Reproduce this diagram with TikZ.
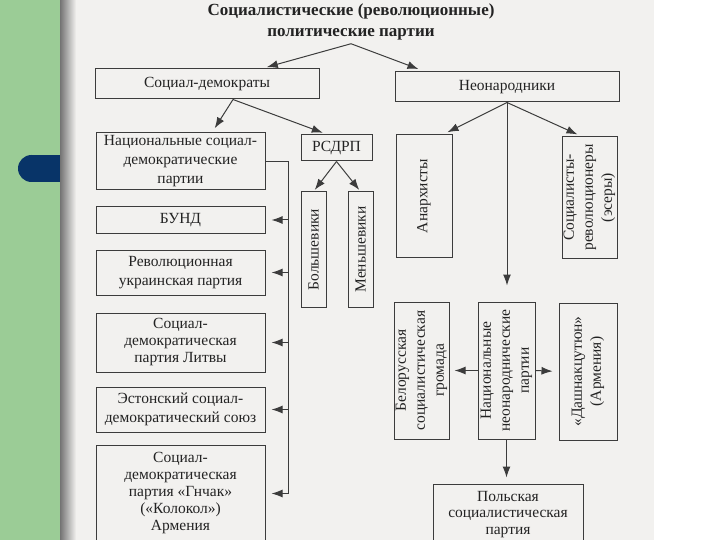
\documentclass[tikz,border=0pt]{standalone}
\usepackage{fontspec}
\setmainfont{Liberation Serif}
\usetikzlibrary{arrows.meta}

\definecolor{slidegreen}{RGB}{155,204,150}
\definecolor{slideblue}{RGB}{8,52,104}
\definecolor{scanpaper}{RGB}{242,241,239}
\definecolor{scanink}{RGB}{35,35,35}
\definecolor{scanline}{RGB}{60,60,60}

\tikzset{
  partybox/.style={draw=scanline, line width=1pt, align=center, inner sep=0pt,
    text=scanink, font=\fontsize{15.5}{19}\selectfont},
  uprightbox/.style={partybox, rotate=90},
  link/.style={draw=scanline, line width=1pt, -{Latex[length=11pt,width=8pt]}},
}

\begin{document}
\begin{tikzpicture}[x=1pt,y=-1pt]
        \useasboundingbox (0,0) rectangle (720,540);
        \clip (0,0) rectangle (720,540);

        % slide background and the scanned page
        \fill[white] (0,0) rectangle (720,540);
        \fill[slidegreen] (0,0) rectangle (60,540);
        \fill[scanpaper] (60,0) rectangle (654,540);
        \shade[left color=black!55, right color=scanpaper] (60,0) rectangle (76,540);
        \fill[slideblue] (31.5,168.5) circle[radius=13.5];
        \fill[slideblue] (31.5,155) rectangle (60,182);

        % title
        \node[font=\bfseries\fontsize{17}{21}\selectfont, text=scanink, align=center]
            (title) at (351,22) {Социалистические (революционные)\\политические партии};

        % the two main branches
        \node[partybox, minimum width=224pt, minimum height=30pt] (socdem) at (207,84) {Социал-демократы};
        \node[partybox, minimum width=224pt, minimum height=30pt] (neonar) at (507,87) {Неонародники};
        \draw[link, shorten >=5pt] (title.south) -- ([xshift=55pt]socdem.north);
        \draw[link, shorten >=7pt] (title.south) -- ([xshift=-82pt]neonar.north);

        % social democrats
        \node[partybox, minimum width=169pt, minimum height=57pt] (natsd) at (180.5,161.5)
            {Национальные социал-\\демократические\\партии};
        \node[partybox, minimum width=71pt, minimum height=26pt] (rsdrp) at (336.5,148) {РСДРП};
        \draw[link, shorten >=5pt] ([xshift=26pt]socdem.south) -- ([xshift=31.5pt]natsd.north);
        \draw[link, shorten >=5pt] ([xshift=26pt]socdem.south) -- ([xshift=-9pt]rsdrp.north);

        \node[uprightbox, minimum width=115pt, minimum height=25pt] (bolsh) at (313.5,249.5) {Большевики};
        \node[uprightbox, minimum width=115pt, minimum height=25pt] (mensh) at (360.5,249.5) {Меньшевики};
        \draw[link, shorten >=2pt] (rsdrp.south) -- (bolsh.east);
        \draw[link, shorten >=2pt] (rsdrp.south) -- (mensh.east);

        % national parties on the left
        \foreach \name/\y/\h/\ls/\txt in {
            bund/220/26/19/{БУНД},
            ukr/272.5/45/19/{Революционная\\украинская партия},
            lit/342.5/59/17/{Социал-\\демократическая\\партия Литвы},
            est/409.5/45/19/{Эстонский социал-\\демократический союз},
            armen/493.5/97/17/{Социал-\\демократическая\\партия «Гнчак»\\(«Колокол»)\\Армения}}
                \node[partybox, font=\fontsize{15.5}{\ls}\selectfont,
                      minimum width=169pt, minimum height=\h pt] (\name) at (180.5,\y) {\txt};

        \coordinate (trunk) at (288,0);
        \draw[link, shorten >=6pt] (natsd.east) -- (natsd.east -| trunk) |- (armen.east);
        \foreach \name in {bund,ukr,lit,est}
                \draw[link, shorten >=6pt] (\name.east -| trunk) -- (\name.east);

        % neonarodniki
        \node[uprightbox, minimum width=122pt, minimum height=56pt] (anarch) at (424,196) {Анархисты};
        \node[uprightbox, minimum width=121pt, minimum height=55pt] (esery) at (589.5,197.5)
            {Социалисты-\\революционеры\\(эсеры)};
        \draw[link, shorten >=5pt] (neonar.south) -- ([xshift=19pt]anarch.east);
        \draw[link, shorten >=5pt] (neonar.south) -- ([xshift=-7.5pt]esery.east);

        \node[uprightbox, minimum width=137pt, minimum height=55pt] (belrus) at (421.5,370.5)
            {Белорусская\\социалистическая\\громада};
        \node[uprightbox, minimum width=137pt, minimum height=57pt] (natneo) at (506.5,370.5)
            {Национальные\\неонароднические\\партии};
        \node[uprightbox, minimum width=137pt, minimum height=58pt] (dashnak) at (588,371.5)
            {«Дашнакцутюн»\\(Армения)};
        \node[partybox, font=\fontsize{15.5}{16.5}\selectfont,
              minimum width=150pt, minimum height=61pt] (polish) at (508,514.5)
            {Польская\\социалистическая\\партия};

        \draw[link, shorten >=16pt] (neonar.south) -- (neonar.south |- natneo.east);
        \draw[link, shorten >=5pt] (natneo.north) -- (belrus.south);
        \draw[link, shorten >=6pt] (natneo.south) -- (dashnak.north);
        \draw[link, shorten >=6pt] (natneo.west) -- (natneo.west |- polish.north);
\end{tikzpicture}
\end{document}
